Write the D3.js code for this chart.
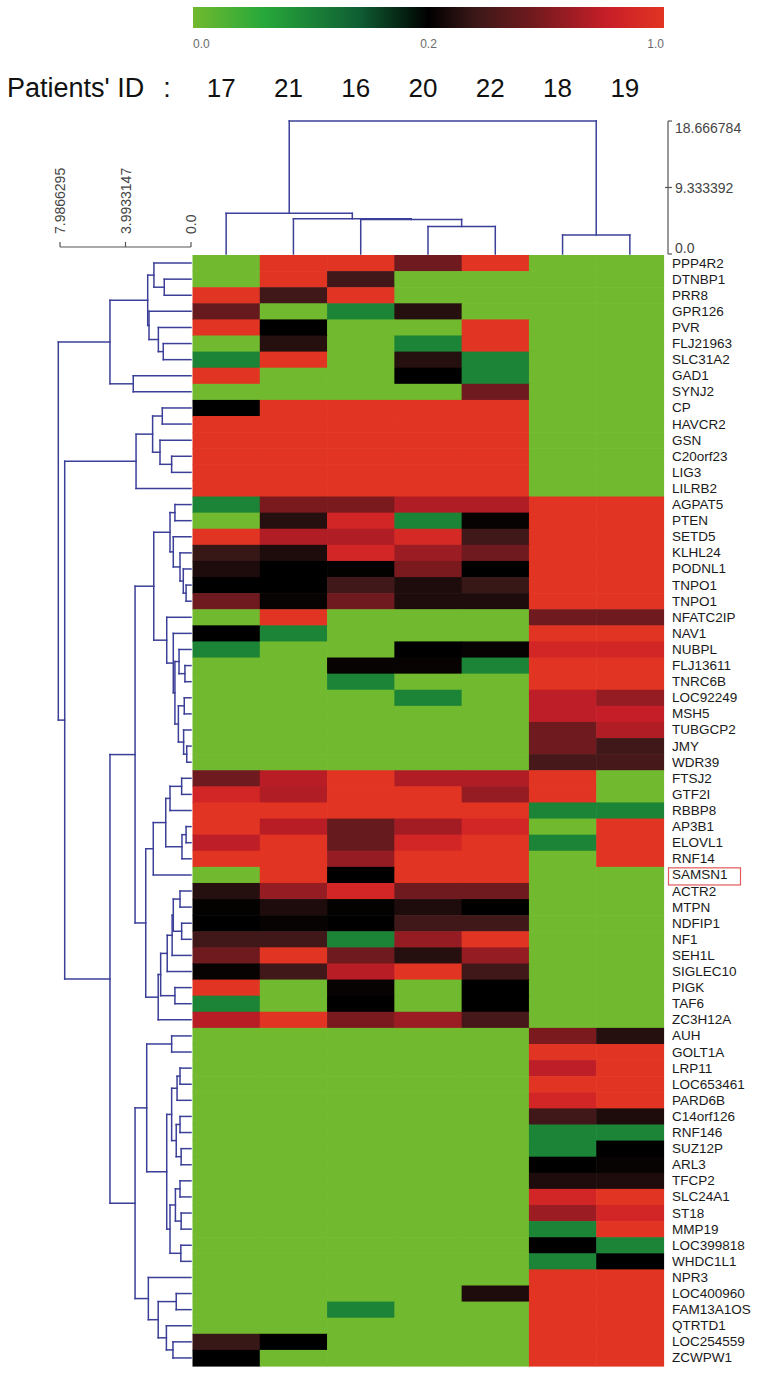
<!DOCTYPE html>
<html>
<head>
<meta charset="utf-8">
<script src="https://cdn.jsdelivr.net/npm/d3@7"></script>
<style>
  body { margin: 0; background: white; }
  svg { display: block; font-family: "Liberation Sans", Arial, sans-serif; }
</style>
</head>
<body>
<div id="my_dataviz"></div>
<script>
// patients (columns, in dendrogram order) and genes (rows)
var patientIds = ["17", "21", "16", "20", "22", "18", "19"];
var geneNames = ["PPP4R2","DTNBP1","PRR8","GPR126","PVR","FLJ21963","SLC31A2","GAD1","SYNJ2","CP",
  "HAVCR2","GSN","C20orf23","LIG3","LILRB2","AGPAT5","PTEN","SETD5","KLHL24","PODNL1",
  "TNPO1","TNPO1","NFATC2IP","NAV1","NUBPL","FLJ13611","TNRC6B","LOC92249","MSH5","TUBGCP2",
  "JMY","WDR39","FTSJ2","GTF2I","RBBP8","AP3B1","ELOVL1","RNF14","SAMSN1","ACTR2",
  "MTPN","NDFIP1","NF1","SEH1L","SIGLEC10","PIGK","TAF6","ZC3H12A","AUH","GOLT1A",
  "LRP11","LOC653461","PARD6B","C14orf126","RNF146","SUZ12P","ARL3","TFCP2","SLC24A1","ST18",
  "MMP19","LOC399818","WHDC1L1","NPR3","LOC400960","FAM13A1OS","QTRTD1","LOC254559","ZCWPW1"];
var highlightGene = "SAMSN1";

// one row per gene, one value per patient (0..1, black = 0.2)
var cellValues = [
  [0, 1, 1, 0.55, 1, 0, 0],
  [0, 1, 0.38, 0, 0, 0, 0],
  [1, 0.38, 1, 0, 0, 0, 0],
  [0.52, 0, 0.1, 0.3, 0, 0, 0],
  [1, 0.2, 0, 0, 1, 0, 0],
  [0, 0.3, 0, 0.1, 1, 0, 0],
  [0.1, 1, 0, 0.3, 0.1, 0, 0],
  [1, 0, 0, 0.2, 0.1, 0, 0],
  [0, 0, 0, 0, 0.55, 0, 0],
  [0.2, 1, 1, 1, 1, 0, 0],
  [1, 1, 1, 1, 1, 0, 0],
  [1, 1, 1, 1, 1, 0, 0],
  [1, 1, 1, 1, 1, 0, 0],
  [1, 1, 1, 1, 1, 0, 0],
  [1, 1, 1, 1, 1, 0, 0],
  [0.1, 0.58, 0.58, 0.74, 0.74, 1, 1],
  [0, 0.3, 0.88, 0.1, 0.22, 1, 1],
  [1, 0.74, 0.74, 0.9, 0.38, 1, 1],
  [0.35, 0.28, 0.88, 0.68, 0.55, 1, 1],
  [0.28, 0.2, 0.21, 0.58, 0.2, 1, 1],
  [0.2, 0.2, 0.38, 0.28, 0.35, 1, 1],
  [0.55, 0.22, 0.55, 0.28, 0.28, 1, 1],
  [0, 1, 0, 0, 0, 0.55, 0.55],
  [0.2, 0.1, 0, 0, 0, 1, 1],
  [0.1, 0, 0, 0.2, 0.22, 0.88, 0.88],
  [0, 0, 0.22, 0.22, 0.1, 1, 1],
  [0, 0, 0.1, 0, 0, 1, 1],
  [0, 0, 0, 0.1, 0, 0.78, 0.66],
  [0, 0, 0, 0, 0, 0.78, 0.8],
  [0, 0, 0, 0, 0, 0.55, 0.74],
  [0, 0, 0, 0, 0, 0.55, 0.38],
  [0, 0, 0, 0, 0, 0.4, 0.4],
  [0.55, 0.76, 1, 0.74, 0.74, 1, 0],
  [0.88, 0.74, 1, 1, 0.66, 1, 0],
  [1, 1, 1, 1, 1, 0.1, 0.1],
  [1, 0.76, 0.52, 0.7, 0.88, 0, 1],
  [0.78, 1, 0.52, 0.88, 1, 0.1, 1],
  [1, 1, 0.66, 1, 1, 0, 1],
  [0, 1, 0.2, 1, 1, 0, 0],
  [0.3, 0.66, 0.88, 0.55, 0.55, 0, 0],
  [0.21, 0.28, 0.21, 0.28, 0.2, 0, 0],
  [0.2, 0.22, 0.2, 0.38, 0.38, 0, 0],
  [0.38, 0.38, 0.1, 0.66, 1, 0, 0],
  [0.55, 1, 0.55, 0.3, 0.66, 0, 0],
  [0.22, 0.38, 0.76, 1, 0.38, 0, 0],
  [1, 0, 0.22, 0, 0.2, 0, 0],
  [0.1, 0, 0.2, 0, 0.2, 0, 0],
  [0.76, 1, 0.58, 0.68, 0.4, 0, 0],
  [0, 0, 0, 0, 0, 0.58, 0.3],
  [0, 0, 0, 0, 0, 1, 1],
  [0, 0, 0, 0, 0, 0.78, 1],
  [0, 0, 0, 0, 0, 1, 1],
  [0, 0, 0, 0, 0, 0.88, 1],
  [0, 0, 0, 0, 0, 0.38, 0.28],
  [0, 0, 0, 0, 0, 0.1, 0.1],
  [0, 0, 0, 0, 0, 0.1, 0.2],
  [0, 0, 0, 0, 0, 0.2, 0.22],
  [0, 0, 0, 0, 0, 0.28, 0.28],
  [0, 0, 0, 0, 0, 0.88, 1],
  [0, 0, 0, 0, 0, 0.68, 0.88],
  [0, 0, 0, 0, 0, 0.1, 1],
  [0, 0, 0, 0, 0, 0.2, 0.1],
  [0, 0, 0, 0, 0, 0.1, 0.2],
  [0, 0, 0, 0, 0, 1, 1],
  [0, 0, 0, 0, 0.28, 1, 1],
  [0, 0, 0.1, 0, 0, 1, 1],
  [0, 0, 0, 0, 0, 1, 1],
  [0.35, 0.2, 0, 0, 0, 1, 1],
  [0.2, 0, 0, 0, 0, 1, 1]
];

// dendrograms: [height, left, right], leaves are column / row indices
var colTree = [18.666784, [5.71, 0, [4.95, 1, [4.85, 2, [3.86, 3, 4]]]], [2.67, 5, 6]];

var rowTree1 = [4.94,
  [2.64, [2.26, 0, [1.63, 1, 2]], [2.56, 3, [1.99, 4, [1.69, 5, 6]]]],
  [3.52, 7, 8]];
var rowTree2 = [3.35, [2.34, [1.75, 9, 10], [1.89, 11, [1.18, 12, 13]]], 14];
var rowTree3a = [2.27,
  [1.28, [0.98, 15, 16], [1.08, 17, [0.67, 18, [0.47, 19, [0.30, 20, 21]]]]],
  [1.48, 22, [1.08, 23, [0.98, [0.73, 24, [0.37, 25, 26]], [0.77, [0.41, 27, 28], [0.45, 29, [0.26, 30, 31]]]]]]];
var rowTree3b = [2.76,
  [2.30, [1.54, [1.28, [0.57, 32, 33], 34], [0.55, [0.30, 35, 36], 37]], 38],
  [2.0, [1.85, [1.45, [1.15, [1.08, [0.67, 39, 40], [0.57, 41, 42]], 43], 44], [0.98, 45, 46]], 47]];
var rowTree4a = [2.70, [1.18, 48, 49],
  [1.48,
    [1.18, [0.85, [0.67, 50, 51], 52], [0.9, [0.67, 53, 54], [0.6, 55, 56]]],
    [1.28, [0.95, [0.67, 57, 58], [0.6, 59, 60]], [0.62, 61, 62]]]];
var rowTree4b = [2.6, 63, [2.0, [0.9, 64, 65], [1.5, 66, [1.1, 67, 68]]]];
var rowTree = [8.09, rowTree1, [7.70, rowTree2, [4.94, [3.41, rowTree3a, rowTree3b], [3.41, rowTree4a, rowTree4b]]]];

// axis labels
var legendTicks = [0, 0.2, 1];
var colAxisTicks = [0, 9.333392, 18.666784];
var colAxisLabels = ["0.0", "9.333392", "18.666784"];
var rowAxisTicks = [0, 3.9933147, 7.9866295];
var rowAxisLabels = ["0.0", "3.9933147", "7.9866295"];

var width = 775, height = 1379;
var lineColor = "#3b3f98";

var svg = d3.select("#my_dataviz")
  .append("svg")
    .attr("width", width)
    .attr("height", height);

// color scale: value -> position on legend -> color
var valuePos = d3.scaleLinear().domain([0, 0.2, 1]).range([0, 0.5, 1]);
var stopPos = [0, 0.15, 0.35, 0.5, 0.6, 0.72, 0.88, 1];
var stopColors = ["#71b92e", "#27a83a", "#0f5f34", "#000000", "#3c1818", "#701a1e", "#c81e28", "#e23422"];
var posColor = d3.scaleLinear().domain(stopPos).range(stopColors);
var myColor = function(v) { return posColor(valuePos(v)); };

// scales for the heatmap
var x = d3.scaleBand().domain(d3.range(patientIds.length)).range([192.5, 663.5]).padding(0);
var y = d3.scaleBand().domain(d3.range(geneNames.length)).range([255, 1366]).padding(0);

// ---- legend bar
var legendX = d3.scaleLinear().domain([0, 1]).range([193, 664]);
var grad = svg.append("defs").append("linearGradient")
  .attr("id", "legendGrad")
  .attr("x1", "0%").attr("x2", "100%").attr("y1", "0%").attr("y2", "0%");
grad.selectAll("stop")
  .data(stopPos)
  .enter().append("stop")
    .attr("offset", function(d) { return (d * 100) + "%"; })
    .attr("stop-color", function(d, i) { return stopColors[i]; });

svg.append("rect")
  .attr("x", legendX(0)).attr("y", 7)
  .attr("width", legendX(1) - legendX(0)).attr("height", 21)
  .style("fill", "url(#legendGrad)");

svg.selectAll(".legendLabel")
  .data(legendTicks)
  .enter().append("text")
    .attr("class", "legendLabel")
    .attr("x", function(d) { return legendX(valuePos(d)); })
    .attr("y", 48)
    .attr("text-anchor", function(d, i) { return i == 0 ? "start" : (i == legendTicks.length - 1 ? "end" : "middle"); })
    .style("font-size", "12px")
    .style("fill", "#6a6a6a")
    .text(d3.format(".1f"));

// ---- patients row
svg.append("text")
  .attr("x", 7).attr("y", 97)
  .style("font-size", "27px")
  .style("fill", "#111")
  .text("Patients' ID");
svg.append("text")
  .attr("x", 167).attr("y", 97)
  .attr("text-anchor", "middle")
  .style("font-size", "27px")
  .style("fill", "#111")
  .text(":");
svg.selectAll(".pid")
  .data(patientIds)
  .enter().append("text")
    .attr("class", "pid")
    .attr("x", function(d, i) { return x(i) + x.bandwidth() / 2 - 5; })
    .attr("y", 97)
    .attr("text-anchor", "middle")
    .style("font-size", "26px")
    .style("fill", "#111")
    .text(function(d) { return d; });

// ---- heatmap cells
var cells = [];
cellValues.forEach(function(row, r) {
  row.forEach(function(v, c) { cells.push({row: r, col: c, value: v}); });
});
svg.selectAll(".cell")
  .data(cells)
  .enter().append("rect")
    .attr("class", "cell")
    .attr("x", function(d) { return x(d.col); })
    .attr("y", function(d) { return y(d.row); })
    .attr("width", x.bandwidth() + 0.6)
    .attr("height", y.bandwidth() + 0.6)
    .style("fill", function(d) { return myColor(d.value); });

// ---- gene labels
svg.selectAll(".gene")
  .data(geneNames)
  .enter().append("text")
    .attr("class", "gene")
    .attr("x", 672)
    .attr("y", function(d, i) { return y(i) + y.bandwidth() / 2; })
    .attr("dominant-baseline", "central")
    .style("font-size", "13.5px")
    .style("fill", "#1a1a1a")
    .text(function(d) { return d; });

// red box round the highlighted gene
var hi = geneNames.indexOf(highlightGene);
svg.append("rect")
  .attr("x", 668.5).attr("y", y(hi) + 1)
  .attr("width", 72).attr("height", y.bandwidth() + 1)
  .style("fill", "none")
  .style("stroke", "#e05a5a")
  .style("stroke-width", 1.2);

// ---- column dendrogram
var colY = d3.scaleLinear().domain([0, 18.666784]).range([254, 121]);
var colSegs = [];
function layoutCol(node) {
  if (typeof node === "number") return {x: x(node) + x.bandwidth() / 2, y: colY(0)};
  var a = layoutCol(node[1]), b = layoutCol(node[2]);
  var yy = colY(node[0]);
  colSegs.push([a.x, a.y, a.x, yy]);
  colSegs.push([b.x, b.y, b.x, yy]);
  colSegs.push([a.x, yy, b.x, yy]);
  return {x: (a.x + b.x) / 2, y: yy};
}
layoutCol(colTree);

// ---- row dendrogram
var rowX = d3.scaleLinear().domain([0, 7.9866295]).range([191, 60]);
var rowSegs = [];
function layoutRow(node) {
  if (typeof node === "number") return {x: rowX(0), y: y(node) + y.bandwidth() / 2};
  var a = layoutRow(node[1]), b = layoutRow(node[2]);
  var xx = rowX(node[0]);
  rowSegs.push([a.x, a.y, xx, a.y]);
  rowSegs.push([b.x, b.y, xx, b.y]);
  rowSegs.push([xx, a.y, xx, b.y]);
  return {x: xx, y: (a.y + b.y) / 2};
}
layoutRow(rowTree);

svg.selectAll(".dendro")
  .data(colSegs.concat(rowSegs))
  .enter().append("line")
    .attr("class", "dendro")
    .attr("x1", function(d) { return d[0]; })
    .attr("y1", function(d) { return d[1]; })
    .attr("x2", function(d) { return d[2]; })
    .attr("y2", function(d) { return d[3]; })
    .style("stroke", lineColor)
    .style("stroke-width", 1.5)
    .style("stroke-linecap", "square");

// ---- column dendrogram axis (right)
var axisColor = "#555";
svg.append("line")
  .attr("x1", 668).attr("x2", 668)
  .attr("y1", colY(colAxisTicks[colAxisTicks.length - 1])).attr("y2", colY(0))
  .style("stroke", axisColor).style("stroke-width", 1.2);
svg.selectAll(".colTick")
  .data(colAxisTicks)
  .enter().append("line")
    .attr("class", "colTick")
    .attr("x1", function(d, i) { return i == 1 ? 665 : 668; })
    .attr("x2", 672)
    .attr("y1", function(d) { return colY(d); })
    .attr("y2", function(d) { return colY(d); })
    .style("stroke", axisColor).style("stroke-width", 1.2);
svg.selectAll(".colTickLabel")
  .data(colAxisTicks)
  .enter().append("text")
    .attr("class", "colTickLabel")
    .attr("x", 675)
    .attr("y", function(d) { return colY(d); })
    .attr("dominant-baseline", function(d, i) { return i == 0 ? "auto" : (i == 1 ? "central" : "hanging"); })
    .attr("dy", function(d, i) { return i == 0 ? "-1" : (i == 1 ? "0" : "2"); })
    .style("font-size", "14px")
    .style("fill", "#444")
    .text(function(d, i) { return colAxisLabels[i]; });

// ---- row dendrogram axis (top left)
svg.append("line")
  .attr("x1", rowX(rowAxisTicks[rowAxisTicks.length - 1])).attr("x2", rowX(0))
  .attr("y1", 247).attr("y2", 247)
  .style("stroke", axisColor).style("stroke-width", 1.2);
svg.selectAll(".rowTick")
  .data(rowAxisTicks)
  .enter().append("line")
    .attr("class", "rowTick")
    .attr("x1", function(d) { return rowX(d); })
    .attr("x2", function(d) { return rowX(d); })
    .attr("y1", 247).attr("y2", 242)
    .style("stroke", axisColor).style("stroke-width", 1.2);
svg.selectAll(".rowTickLabel")
  .data(rowAxisTicks)
  .enter().append("text")
    .attr("class", "rowTickLabel")
    .attr("transform", function(d) { return "translate(" + (rowX(d) + 5) + ",234) rotate(-90)"; })
    .style("font-size", "14px")
    .style("fill", "#444")
    .text(function(d, i) { return rowAxisLabels[i]; });
</script>
</body>
</html>
